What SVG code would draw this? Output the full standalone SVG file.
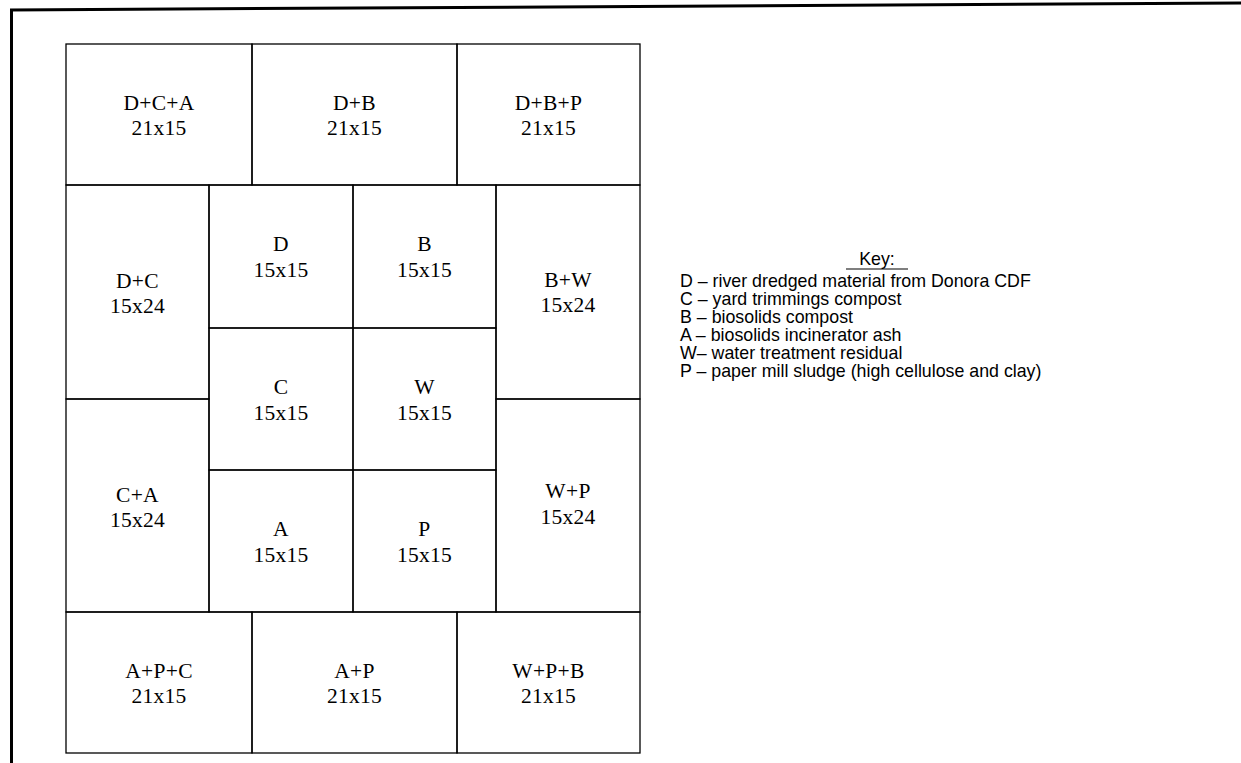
<svg xmlns="http://www.w3.org/2000/svg" width="1241" height="763" viewBox="0 0 1241 763">
<style>
.cell{fill:none;stroke:#000;stroke-width:1.3}
.lbl{font-family:"Liberation Serif","Times New Roman",serif;font-size:21.5px;fill:#000;text-anchor:middle;letter-spacing:0.3px}
.key{font-family:"Liberation Sans",Arial,sans-serif;font-size:17.8px;fill:#000}
.frame{stroke:#000;stroke-width:3;fill:none}
</style>
<rect x="0" y="0" width="1241" height="763" fill="#fff"/>
<g id="frame">
<line class="frame" x1="10" y1="10" x2="1241" y2="3"/>
<line class="frame" x1="11.5" y1="9" x2="11.5" y2="763"/>
</g>
<g id="connectors"></g>
<g id="cell-DCA"><rect class="cell" x="66" y="44" width="186" height="141"/><text class="lbl" x="159" y="110">D+C+A</text><text class="lbl" x="159" y="135">21x15</text></g>
<g id="cell-DB"><rect class="cell" x="252" y="44" width="205" height="141"/><text class="lbl" x="354.5" y="110">D+B</text><text class="lbl" x="354.5" y="135">21x15</text></g>
<g id="cell-DBP"><rect class="cell" x="457" y="44" width="183" height="141"/><text class="lbl" x="548.5" y="110">D+B+P</text><text class="lbl" x="548.5" y="135">21x15</text></g>
<g id="cell-DC"><rect class="cell" x="66" y="185" width="143" height="214"/><text class="lbl" x="137.5" y="288">D+C</text><text class="lbl" x="137.5" y="313">15x24</text></g>
<g id="cell-CA"><rect class="cell" x="66" y="399" width="143" height="213"/><text class="lbl" x="137.5" y="502">C+A</text><text class="lbl" x="137.5" y="527">15x24</text></g>
<g id="cell-D"><rect class="cell" x="209" y="185" width="144" height="143"/><text class="lbl" x="281" y="251">D</text><text class="lbl" x="281" y="277">15x15</text></g>
<g id="cell-B"><rect class="cell" x="353" y="185" width="143" height="143"/><text class="lbl" x="424.5" y="251">B</text><text class="lbl" x="424.5" y="277">15x15</text></g>
<g id="cell-C"><rect class="cell" x="209" y="328" width="144" height="142"/><text class="lbl" x="281" y="394">C</text><text class="lbl" x="281" y="420">15x15</text></g>
<g id="cell-W"><rect class="cell" x="353" y="328" width="143" height="142"/><text class="lbl" x="424.5" y="394">W</text><text class="lbl" x="424.5" y="420">15x15</text></g>
<g id="cell-A"><rect class="cell" x="209" y="470" width="144" height="142"/><text class="lbl" x="281" y="536">A</text><text class="lbl" x="281" y="562">15x15</text></g>
<g id="cell-P"><rect class="cell" x="353" y="470" width="143" height="142"/><text class="lbl" x="424.5" y="536">P</text><text class="lbl" x="424.5" y="562">15x15</text></g>
<g id="cell-BW"><rect class="cell" x="496" y="185" width="144" height="214"/><text class="lbl" x="568" y="287">B+W</text><text class="lbl" x="568" y="312">15x24</text></g>
<g id="cell-WP"><rect class="cell" x="496" y="399" width="144" height="213"/><text class="lbl" x="568" y="498">W+P</text><text class="lbl" x="568" y="524">15x24</text></g>
<g id="cell-APC"><rect class="cell" x="66" y="612" width="186" height="141"/><text class="lbl" x="159" y="678">A+P+C</text><text class="lbl" x="159" y="703">21x15</text></g>
<g id="cell-AP"><rect class="cell" x="252" y="612" width="205" height="141"/><text class="lbl" x="354.5" y="678">A+P</text><text class="lbl" x="354.5" y="703">21x15</text></g>
<g id="cell-WPB"><rect class="cell" x="457" y="612" width="183" height="141"/><text class="lbl" x="548.5" y="678">W+P+B</text><text class="lbl" x="548.5" y="703">21x15</text></g>
<g id="key">
<text class="key" x="877" y="265" text-anchor="middle">Key:</text>
<line x1="846" y1="269" x2="908" y2="269" stroke="#000" stroke-width="1.2"/>
<text class="key" x="680" y="287">D – river dredged material from Donora CDF</text>
<text class="key" x="680" y="305">C – yard trimmings compost</text>
<text class="key" x="680" y="323">B – biosolids compost</text>
<text class="key" x="680" y="341">A – biosolids incinerator ash</text>
<text class="key" x="680" y="359">W– water treatment residual</text>
<text class="key" x="680" y="377">P – paper mill sludge (high cellulose and clay)</text>
</g>
</svg>
